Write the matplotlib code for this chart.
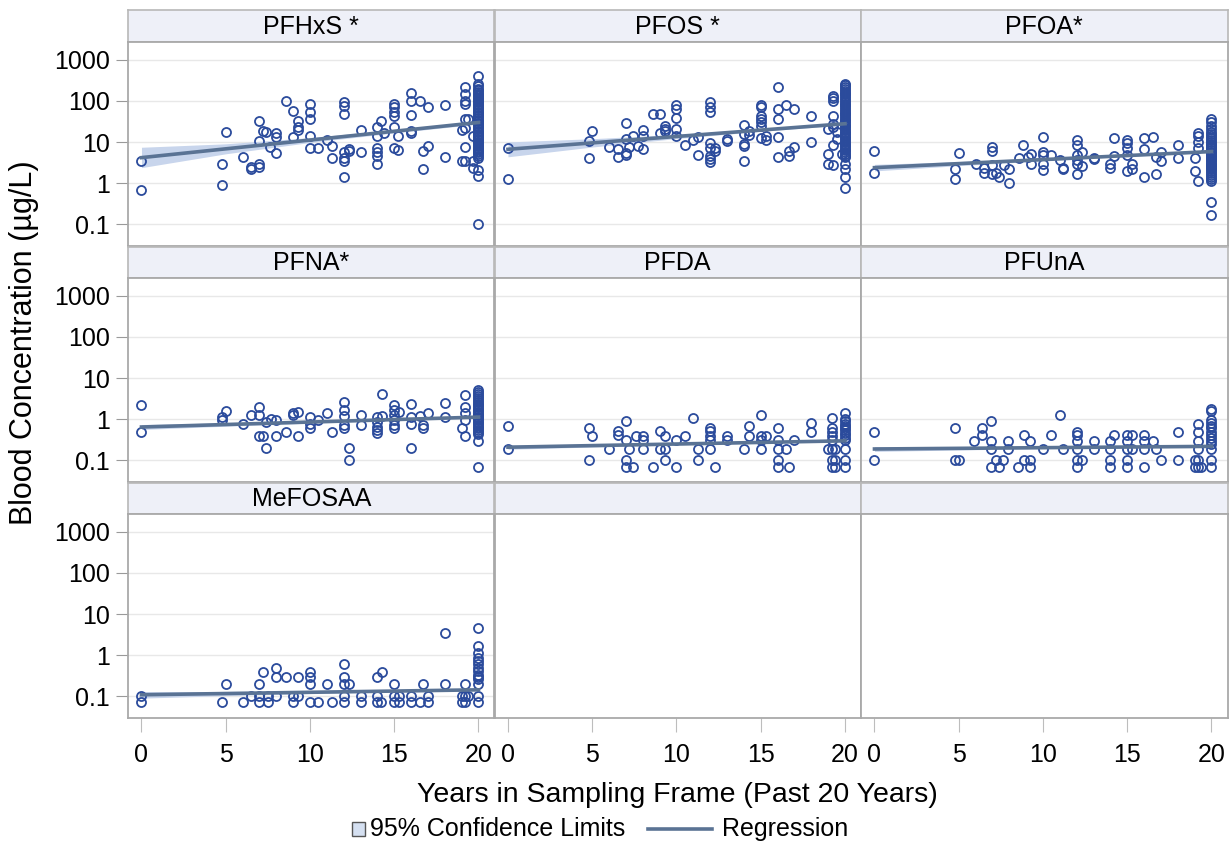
import matplotlib
matplotlib.use("Agg")
import matplotlib.pyplot as plt
from matplotlib.lines import Line2D
from matplotlib.patches import Rectangle
from matplotlib.ticker import NullLocator

plt.rcParams['font.family'] = ['Liberation Sans', 'DejaVu Sans']

# (year, [concentrations]) groups, µg/L
pfhxs = [
    (0, [3.5, 0.68]), (4.8, [2.9, 0.9]), (5.0, [18]), (6.0, [4.4]), (6.5, [2.5, 2.2]),
    (7.0, [33, 10.4, 2.9, 2.5]), (7.2, [19]), (7.4, [18]), (7.6, [7.7]),
    (8.0, [17, 13, 5.5]), (8.6, [100]), (9.0, [56, 13]), (9.3, [32, 23, 20]),
    (10.0, [85, 55, 36, 14, 7.4]), (10.5, [7.0]), (11.0, [11]), (11.3, [8.1, 4.2]),
    (12.0, [95, 77, 48, 5.6, 4.2, 3.5, 1.4]), (12.3, [6.2, 6.8]), (13.0, [19.6, 5.7]),
    (14.0, [23, 14, 7.4, 5.6, 4.6, 2.9]), (14.2, [32]), (14.4, [17]),
    (15.0, [85, 70, 53, 44, 23, 7.4]), (15.2, [14, 6.6]),
    (16.0, [153, 100, 45, 19, 17]), (16.5, [97]), (16.7, [6.0, 2.2]), (17.0, [70, 8.0]),
    (18.0, [80, 4.4]), (19.0, [3.5, 20]),
    (19.2, [220, 150, 100, 85, 36, 22, 7.8, 3.5]), (19.4, [36]), (19.7, [3.4, 2.3, 14]),
    (20.0, [400, 260, 230, 200, 180, 165, 150, 140, 130, 120, 110, 100, 92, 85, 78, 72,
            66, 60, 55, 50, 46, 42, 38, 35, 32, 29, 27, 25, 23, 21, 19, 17.5, 16, 15, 14,
            13, 12, 11, 10, 9.3, 8.6, 8.0, 7.4, 6.8, 6.2, 5.7, 5.2, 4.7, 4.2, 2.1, 1.5, 0.1]),
]

pfos = [
    (0, [7.4, 1.25]), (4.8, [10.8, 4.2]), (5.0, [19]), (6.0, [7.7]), (6.5, [6.7, 4.4]),
    (7.0, [28.5, 11.8, 5.3, 4.9]), (7.2, [7.8]), (7.4, [14]), (7.7, [8.1]),
    (8.0, [20, 14, 6.7]), (8.6, [48]), (9.0, [48, 17]), (9.3, [24, 21, 19]),
    (10.0, [81, 62, 38, 21, 14]), (10.5, [8.6]), (11.0, [11]), (11.3, [13, 4.9]),
    (12.0, [92, 70, 53, 9.3, 7.4, 4.6, 3.8, 3.3]), (12.3, [7.4, 6.2]), (13.0, [11.8, 10.8]),
    (14.0, [26, 15.6, 8.9, 8.1, 3.5]), (14.3, [19, 15]),
    (15.0, [81, 70, 44, 36, 30, 25, 12.5]), (15.3, [14, 11]),
    (16.0, [220, 64, 36, 13, 4.4]), (16.5, [81]), (16.7, [6.1, 4.6]), (17.0, [64, 7.7]),
    (18.0, [44, 9.8]), (19.0, [21, 5.1, 2.9]),
    (19.3, [134, 118, 100, 44, 28, 23, 8.6, 2.75]), (19.5, [18, 12]), (19.8, [5.1]),
    (20.0, [265, 240, 215, 195, 175, 160, 145, 130, 118, 105, 95, 86, 78, 70, 63, 57, 52,
            47, 43, 39, 35, 32, 29, 26, 24, 22, 20, 18, 16.5, 15, 13.5, 12.3, 11, 10, 9.2,
            8.4, 7.6, 6.9, 6.3, 5.7, 5.2, 4.7, 4.3, 2.9, 2.2, 1.45, 0.78]),
]

pfoa = [
    (0, [6.1, 1.8]), (4.8, [2.2, 1.25]), (5.0, [5.5]), (6.0, [2.9]), (6.5, [2.4, 1.8]),
    (7.0, [7.7, 6.1, 2.75, 1.7]), (7.2, [1.8]), (7.4, [1.4]), (7.7, [2.75]),
    (8.0, [2.2, 1.04]), (8.6, [4.2]), (8.8, [8.6]), (9.1, [4.4]), (9.3, [5.1, 2.9]),
    (10.0, [13.5, 5.6, 4.9, 2.9, 2.1]), (10.5, [4.9]), (11.0, [3.6]), (11.2, [2.4, 2.2]),
    (12.0, [11, 8.6, 4.9, 3.6, 2.9, 1.7]), (12.3, [5.6, 2.6]), (13.0, [4.2, 3.8]),
    (14.0, [2.9, 2.4]), (14.2, [12.5, 4.6]), (15.0, [11, 9.3, 7.4, 4.9, 2.0]),
    (15.3, [2.9, 2.2]), (16.0, [12.5, 6.7, 1.4]), (16.5, [13.5]), (16.7, [1.65, 4.4]),
    (17.0, [3.5, 5.9]), (18.0, [8.6, 4.1]), (19.0, [4.2, 2.0]),
    (19.2, [17, 14, 9.8, 7.4, 1.15]),
    (20.0, [37, 30, 25, 21, 18, 16, 14, 12.5, 11, 10, 9.2, 8.4, 7.7, 7.0, 6.4, 5.9, 5.4,
            5.0, 4.6, 4.2, 3.9, 3.6, 3.3, 3.0, 2.8, 2.6, 2.4, 2.2, 2.0, 1.8, 1.6, 1.45,
            1.3, 1.15, 0.36, 0.17]),
]

pfna = [
    (0, [2.2, 0.48]), (4.8, [1.14, 0.95]), (5.0, [1.6]), (6.0, [0.79]), (6.5, [1.3]),
    (7.0, [2.0, 1.25, 0.39]), (7.2, [0.39]), (7.4, [0.2, 0.86]), (7.7, [1.0]),
    (8.0, [0.95, 0.39]), (8.6, [0.49]), (9.0, [1.25, 1.4]), (9.3, [1.5, 0.39]),
    (10.0, [1.14, 0.79, 0.6]), (10.5, [0.95]), (11.0, [1.4]), (11.3, [0.49]),
    (12.0, [2.7, 1.7, 1.18, 0.72, 0.6]), (12.3, [0.2, 0.1]), (13.0, [1.25, 0.72]),
    (14.0, [1.14, 0.86, 0.65, 0.54, 0.47]), (14.3, [4.2, 1.18]),
    (15.0, [2.2, 1.65, 1.25, 0.95, 0.72, 0.6]), (15.3, [1.5]),
    (16.0, [2.4, 1.14, 0.79, 0.2]), (16.5, [1.18]), (16.7, [0.6, 0.72]), (17.0, [1.4]),
    (18.0, [2.5, 1.14]), (19.0, [0.6]), (19.2, [3.9, 2.0, 1.4, 0.95, 0.39]),
    (20.0, [5.2, 4.6, 4.1, 3.7, 3.3, 3.0, 2.7, 2.4, 2.2, 2.0, 1.8, 1.65, 1.5, 1.38, 1.26,
            1.15, 1.05, 0.96, 0.88, 0.8, 0.73, 0.66, 0.6, 0.55, 0.5, 0.45, 0.29, 0.07]),
]

pfda = [
    (0, [0.69, 0.195]), (4.8, [0.6, 0.1]), (5.0, [0.4]), (6.0, [0.195]), (6.5, [0.51, 0.41]),
    (7.0, [0.9, 0.31, 0.1, 0.07]), (7.2, [0.195]), (7.4, [0.07]), (7.6, [0.4]),
    (8.0, [0.4, 0.31, 0.195]), (8.6, [0.07]), (9.0, [0.51, 0.195]), (9.3, [0.4, 0.195, 0.1]),
    (10.0, [0.31, 0.07]), (10.5, [0.4]), (11.0, [1.1]), (11.3, [0.195, 0.1]),
    (12.0, [0.62, 0.51, 0.4, 0.31, 0.195]), (12.3, [0.07]), (13.0, [0.4, 0.31]),
    (14.0, [0.195]), (14.3, [0.69, 0.4]), (15.0, [1.3, 0.4, 0.31, 0.195]), (15.3, [0.4]),
    (16.0, [0.62, 0.31, 0.195, 0.1, 0.07]), (16.5, [0.195]), (16.7, [0.07]), (17.0, [0.31]),
    (18.0, [0.81, 0.49]), (19.0, [0.195]),
    (19.2, [1.1, 0.62, 0.49, 0.4, 0.31, 0.195, 0.1, 0.07]), (19.4, [0.195, 0.1, 0.07]),
    (20.0, [1.42, 1.0, 0.9, 0.79, 0.7, 0.62, 0.54, 0.47, 0.41, 0.36, 0.31, 0.195, 0.1, 0.07]),
]

pfuna = [
    (0, [0.49, 0.1]), (4.8, [0.6, 0.1]), (5.0, [0.1]), (5.9, [0.3]), (6.4, [0.6, 0.41]),
    (6.9, [0.9, 0.3, 0.195, 0.07]), (7.2, [0.1]), (7.4, [0.07]), (7.6, [0.1]),
    (7.9, [0.3, 0.195]), (8.5, [0.07]), (8.9, [0.41, 0.1]), (9.2, [0.3, 0.1, 0.07]),
    (10.0, [0.195]), (10.5, [0.41]), (11.0, [1.3]), (11.2, [0.195]),
    (12.0, [0.49, 0.41, 0.3, 0.195, 0.1, 0.07]), (12.3, [0.1]), (13.0, [0.3, 0.195]),
    (14.0, [0.3, 0.195, 0.1, 0.07]), (14.2, [0.41]), (15.0, [0.41, 0.3, 0.195, 0.1, 0.07]),
    (15.3, [0.41, 0.195]), (16.0, [0.41, 0.3, 0.195, 0.07]), (16.5, [0.3]),
    (16.7, [0.195]), (17.0, [0.1]), (18.0, [0.49, 0.1]), (19.0, [0.1, 0.07]),
    (19.2, [0.79, 0.49, 0.3, 0.195, 0.1, 0.07]), (19.4, [0.07]),
    (20.0, [1.8, 1.6, 0.95, 0.8, 0.7, 0.6, 0.5, 0.42, 0.35, 0.3, 0.25, 0.195, 0.1, 0.07]),
]

mefosaa = [
    (0, [0.1, 0.073]), (4.8, [0.073]), (5.0, [0.2]), (6.0, [0.073]), (6.5, [0.1]),
    (7.0, [0.2, 0.1, 0.073]), (7.2, [0.4]), (7.5, [0.1, 0.073]), (8.0, [0.5, 0.3, 0.1]),
    (8.6, [0.3]), (9.0, [0.1, 0.073]), (9.3, [0.3, 0.1]), (10.0, [0.4, 0.3, 0.2, 0.073]),
    (10.5, [0.073]), (11.0, [0.2]), (11.3, [0.073]), (12.0, [0.62, 0.3, 0.2, 0.1, 0.073]),
    (12.3, [0.2]), (13.0, [0.1, 0.073]), (14.0, [0.3, 0.1, 0.073]), (14.2, [0.073]),
    (14.3, [0.4]), (15.0, [0.2, 0.1, 0.073]), (15.3, [0.1, 0.073]), (16.0, [0.1, 0.073]),
    (16.5, [0.073]), (16.7, [0.2]), (17.0, [0.1, 0.073]), (18.0, [3.5, 0.2]),
    (19.0, [0.1, 0.073]), (19.2, [0.2, 0.1, 0.073]), (19.4, [0.1]),
    (20.0, [4.6, 1.65, 1.14, 0.86, 0.72, 0.6, 0.5, 0.41, 0.34, 0.3, 0.26, 0.2, 0.1, 0.073]),
]

titles = ["PFHxS *", "PFOS *", "PFOA*", "PFNA*", "PFDA", "PFUnA", "MeFOSAA"]
groups = [pfhxs, pfos, pfoa, pfna, pfda, pfuna, mefosaa]

# fitted line at year 0 and year 20
fit_ends = [(4.2, 30), (6.7, 28), (2.4, 5.9), (0.65, 1.13), (0.21, 0.30), (0.19, 0.22), (0.11, 0.145)]

# 95% confidence band at years 0, 5, 10, 15, 20
ci_years = [0, 5, 10, 15, 20]
ci_lower = [
    [2.4, 5.2, 9.8, 16.7, 27.4],
    [4.4, 7.6, 12.2, 18.3, 26.1],
    [2.0, 2.68, 3.52, 4.5, 5.64],
    [0.566, 0.68, 0.81, 0.94, 1.08],
    [0.187, 0.212, 0.24, 0.265, 0.286],
    [0.166, 0.18, 0.195, 0.205, 0.21],
    [0.091, 0.105, 0.118, 0.129, 0.138],
]
ci_upper = [
    [7.5, 9.1, 12.9, 20.1, 32.9],
    [10.1, 12.1, 15.4, 21.0, 30.0],
    [2.88, 3.37, 4.04, 4.93, 6.18],
    [0.746, 0.818, 0.908, 1.03, 1.18],
    [0.235, 0.249, 0.263, 0.284, 0.314],
    [0.218, 0.216, 0.214, 0.219, 0.23],
    [0.132, 0.132, 0.135, 0.142, 0.152],
]

yticks = [0.1, 1, 10, 100, 1000]
ytick_labels = ["0.1", "1", "10", "100", "1000"]
xticks = [0, 5, 10, 15, 20]

W, H = 1231, 842
MARKER = '#2b4b9c'
LINE = '#5a7394'
BAND = '#c8d5ec'
FRAME = '#a9a9a9'


def box(x0, y0, x1, y1):
    return [x0 / W, 1 - y1 / H, (x1 - x0) / W, (y1 - y0) / H]


col_edges = [128, 494.5, 861, 1227.5]
strip_rows = [(10, 42), (247, 278), (483, 514)]
plot_rows = [(42, 246), (278, 482), (514, 718)]

fig = plt.figure(figsize=(W / 100, H / 100), dpi=100)

for i in range(9):
    r, c = divmod(i, 3)
    x0, x1 = col_edges[c], col_edges[c + 1]

    sax = fig.add_axes(box(x0, strip_rows[r][0], x1, strip_rows[r][1]))
    sax.set_facecolor('#eef0f8')
    sax.set_xticks([])
    sax.set_yticks([])
    for s in sax.spines.values():
        s.set_color('#b8b8b8')
        s.set_linewidth(1.2)
    if i < len(titles):
        sax.text(0.5, 0.47, titles[i], ha='center', va='center', fontsize=18,
                 transform=sax.transAxes)

    ax = fig.add_axes(box(x0, plot_rows[r][0], x1, plot_rows[r][1]))
    ax.set_yscale('log')
    ax.set_ylim(0.03, 2700)
    ax.set_xlim(-0.8, 20.95)
    ax.set_yticks(yticks)
    ax.yaxis.set_minor_locator(NullLocator())
    ax.set_xticks(xticks)
    for s in ax.spines.values():
        s.set_color(FRAME)
        s.set_linewidth(1.3)

    if c == 0:
        ax.set_yticklabels(ytick_labels, fontsize=18)
        ax.tick_params(axis='y', length=9, color='#9a9a9a', pad=4)
    else:
        ax.tick_params(axis='y', left=False, labelleft=False)
    if r == 2:
        ax.set_xticklabels([str(t) for t in xticks], fontsize=18)
        ax.tick_params(axis='x', length=10, color='#bdbdbd', pad=8)
    else:
        ax.tick_params(axis='x', bottom=False, labelbottom=False)

    if i >= len(titles):
        continue

    ax.yaxis.grid(True, color='#e8e8e8', lw=1)
    ax.set_axisbelow(True)

    xs = [yr for yr, vals in groups[i] for _ in vals]
    ys = [v for yr, vals in groups[i] for v in vals]
    ax.fill_between(ci_years, ci_lower[i], ci_upper[i], color=BAND, lw=0, zorder=2)
    ax.plot(xs, ys, 'o', mfc='none', mec=MARKER, ms=6.5, mew=1.3, zorder=3)
    ax.plot([0, 20], fit_ends[i], color=LINE, lw=2.6, zorder=4)

fig.text(677 / W, 1 - 795 / H, "Years in Sampling Frame (Past 20 Years)",
         ha='center', va='center', fontsize=20.5)
fig.text(24 / W, 1 - 343 / H, "Blood Concentration (µg/L)",
         ha='center', va='center', rotation=90, fontsize=22)

# legend row
fig.add_artist(Rectangle((352 / W, 1 - 836 / H), 13 / W, 14 / H, transform=fig.transFigure,
                         facecolor='#d5e0f1', edgecolor='#555555', lw=1))
fig.text(370 / W, 1 - 829 / H, "95% Confidence Limits", va='center', fontsize=18)
fig.add_artist(Line2D([648 / W, 712 / W], [1 - 829 / H, 1 - 829 / H],
                      transform=fig.transFigure, color=LINE, lw=2.6))
fig.text(722 / W, 1 - 829 / H, "Regression", va='center', fontsize=18)

fig.savefig("out.png", dpi=100)
